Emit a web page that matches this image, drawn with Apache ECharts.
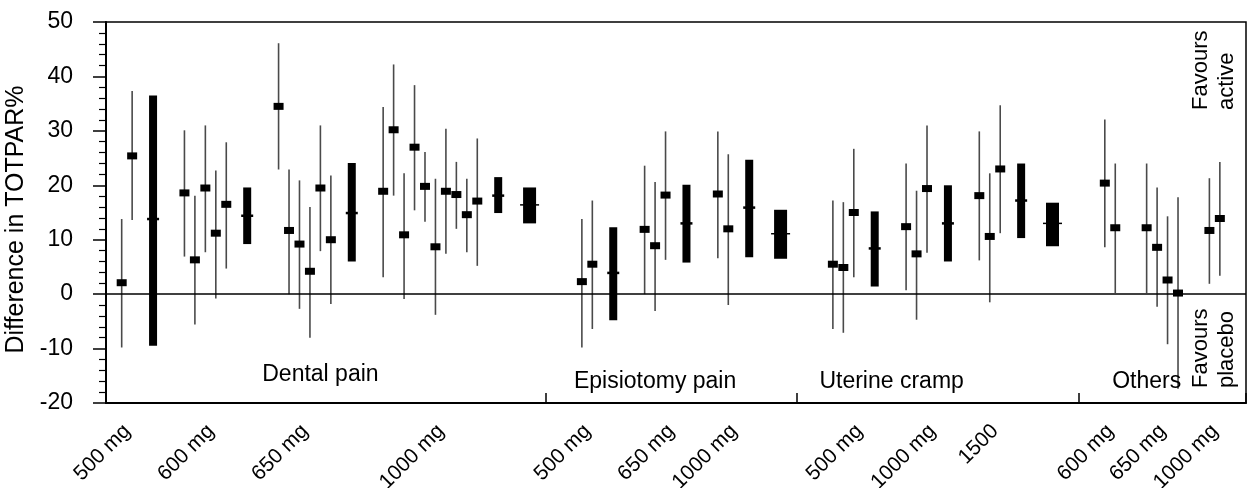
<!DOCTYPE html>
<html><head><meta charset="utf-8">
<script src="https://cdn.jsdelivr.net/npm/echarts@6/dist/echarts.min.js"></script>
<style>html,body{margin:0;padding:0;background:#fff}#c{width:1248px;height:488px}</style>
</head><body><div id="c"></div>
<script>
// ---------------- DATA ----------------
const slotCount = 109;
const doseLabels = ['500 mg','600 mg','650 mg','1000 mg','500 mg','650 mg','1000 mg','500 mg','1000 mg','1500','600 mg','650 mg','1000 mg'];
const doseLabelSlots = [2, 10, 19, 32, 46, 54, 60, 72, 79, 85, 96, 101, 106];
const groupNames = ['Dental pain', 'Episiotomy pain', 'Uterine cramp', 'Others'];
const groupSeparatorSlots = [42, 66, 93];

// individual studies: slot, mean difference, lower CI, upper CI
const studySlots = [1,2, 7,8,9,10,11, 16,17,18,19,20,21, 26,27,28,29,30,31,32,33,34,35,
  45,46, 51,52,53, 58,59, 69,70,71, 76,77,78, 83,84,85, 95,96, 99,100,101,102, 105,106];
const studyMean = [2.1,25.4, 18.6,6.3,19.5,11.2,16.5, 34.5,11.7,9.2,4.2,19.5,10.0,
  18.9,30.2,10.9,27.0,19.8,8.7,18.9,18.3,14.6,17.1,
  2.3,5.5, 11.9,8.9,18.2, 18.4,12.0, 5.5,4.9,15.0, 12.4,7.4,19.4, 18.1,10.6,23.0,
  20.4,12.2, 12.2,8.6,2.6,0.2, 11.7,13.9];
const studyLow = [-9.8,13.6, 6.9,-5.6,7.7,-0.8,4.7, 22.9,0.0,-2.7,-8.0,7.9,-1.8,
  3.1,18.1,-0.9,15.4,13.3,-3.8,7.4,12.0,7.7,5.2,
  -9.8,-6.4, 0.0,-3.1,6.3, 6.6,-2.0, -6.4,-7.1,3.1, 0.7,-4.7,7.6, 6.2,-1.5,11.2,
  8.6,0.2, 0.2,-2.3,-9.2,-17.4, 1.9,3.4];
const studyHigh = [13.8,37.3, 30.1,18.1,31.0,22.7,27.9, 46.1,22.9,20.9,16.0,31.0,21.8,
  34.4,42.2,22.2,38.4,26.1,21.2,30.4,24.3,21.2,28.6,
  13.8,17.2, 23.6,20.6,29.9, 29.9,25.7, 17.2,16.9,26.7, 24.0,19.0,31.0, 29.9,22.2,34.7,
  32.1,24.0, 24.0,19.6,14.3,17.8, 21.3,24.3];

// pooled estimate per dose
const pooledSlots = [4, 13, 23, 37, 48, 55, 61, 73, 80, 87];
const pooledMean = [13.8, 14.4, 14.9, 18.1, 3.9, 13.0, 15.9, 8.4, 13.0, 17.2];
const pooledLow  = [-9.5, 9.2, 6.0, 14.9, -4.8, 5.8, 6.8, 1.4, 6.0, 10.3];
const pooledHigh = [36.5, 19.6, 24.1, 21.5, 12.3, 20.1, 24.7, 15.2, 20.0, 24.0];

// overall estimate per pain model
const overallSlots = [40, 64, 90];
const overallMean = [16.4, 11.1, 13.0];
const overallLow  = [13.0, 6.5, 8.8];
const overallHigh = [19.6, 15.5, 16.8];

// ---------------- LAYOUT ----------------
const FONT = '"Liberation Sans", Arial, sans-serif';
const groupLabelAt = [[20, -14.8], [52, -16.1], [75, -16.1], [99, -16.1]];
const groupLabelShift = [[0, 0], [0, 0], [-4, 0], [0, 0]];

const categories = Array.from({length: slotCount}, (_, i) => 's' + i);
function rows(sl, m, lo, hi) { return sl.map((s, i) => [s, m[i], lo[i], hi[i]]); }

function pts(api) {
  const x = api.coord([api.value(0), api.value(1)]);
  const lo = api.coord([api.value(0), api.value(2)]);
  const hi = api.coord([api.value(0), api.value(3)]);
  return {x: x[0], ym: x[1], ylo: lo[1], yhi: hi[1]};
}

const chart = echarts.init(document.getElementById('c'), null, {renderer: 'canvas'});
chart.setOption({
  backgroundColor: '#fff',
  animation: false,
  grid: {left: 106, right: 2, top: 22, bottom: 85, containLabel: false, outerBoundsMode: 'none',
    show: true, borderColor: '#000', borderWidth: 1.5, backgroundColor: 'transparent'},
  xAxis: {
    type: 'category', data: categories, boundaryGap: true,
    axisLine: {show: true, onZero: false, lineStyle: {color: '#000', width: 2}},
    axisTick: {show: true, inside: true, length: 10, lineStyle: {color: '#000', width: 1.5},
      interval: (idx) => groupSeparatorSlots.includes(idx)},
    axisLabel: {interval: 0, rotate: 45, margin: 20, padding: [0, 7, 0, 0], color: '#000', fontSize: 21, fontFamily: FONT,
      formatter: (v, idx) => { const j = doseLabelSlots.indexOf(idx); return j >= 0 ? doseLabels[j] : ''; }},
    splitLine: {show: false}
  },
  yAxis: {
    type: 'value', min: -20, max: 50, interval: 10,
    name: 'Difference in TOTPAR%', nameLocation: 'middle', nameGap: 64,
    nameTextStyle: {color: '#000', fontSize: 25, fontFamily: FONT, padding: [0, 14, 0, 0]},
    axisLine: {show: true, lineStyle: {color: '#000', width: 2}},
    axisTick: {show: true, inside: false, length: 13, lineStyle: {color: '#000', width: 1.5}},
    minorTick: {show: true, splitNumber: 5, length: 7, lineStyle: {color: '#000', width: 1.2}},
    axisLabel: {color: '#000', fontSize: 23, fontFamily: FONT, margin: 33},
    splitLine: {show: false}
  },
  series: [
    {
      type: 'custom', name: 'studies', data: rows(studySlots, studyMean, studyLow, studyHigh),
      encode: {x: 0, y: [1, 2, 3]},
      renderItem: (params, api) => {
        const p = pts(api);
        return {type: 'group', children: [
          {type: 'line', shape: {x1: p.x, y1: p.yhi, x2: p.x, y2: p.ylo}, style: {stroke: '#4a4a4a', lineWidth: 1.6}},
          {type: 'rect', shape: {x: p.x - 5, y: p.ym - 3.5, width: 10, height: 7}, style: {fill: '#000'}}
        ]};
      },
      markLine: {silent: true, symbol: ['none', 'none'], label: {show: false},
        lineStyle: {color: '#000', width: 1.6, type: 'solid'}, data: [{yAxis: 0}]},
      markPoint: {
        symbol: 'circle', symbolSize: 1, itemStyle: {color: 'rgba(0,0,0,0)'},
        label: {show: true, position: 'inside', color: '#000', fontSize: 23, fontFamily: FONT, formatter: '{b}'},
        data: groupNames.map((n, i) => ({name: n, coord: groupLabelAt[i], label: {offset: groupLabelShift[i]}}))
      }
    },
    {
      type: 'custom', name: 'pooled', data: rows(pooledSlots, pooledMean, pooledLow, pooledHigh),
      encode: {x: 0, y: [1, 2, 3]},
      renderItem: (params, api) => {
        const p = pts(api);
        return {type: 'group', children: [
          {type: 'rect', shape: {x: p.x - 4, y: p.yhi, width: 8, height: p.ylo - p.yhi}, style: {fill: '#000'}},
          {type: 'line', shape: {x1: p.x - 6, y1: p.ym, x2: p.x + 6, y2: p.ym}, style: {stroke: '#000', lineWidth: 2.5}}
        ]};
      }
    },
    {
      type: 'custom', name: 'overall', data: rows(overallSlots, overallMean, overallLow, overallHigh),
      encode: {x: 0, y: [1, 2, 3]},
      renderItem: (params, api) => {
        const p = pts(api);
        return {type: 'group', children: [
          {type: 'rect', shape: {x: p.x - 6.5, y: p.yhi, width: 13, height: p.ylo - p.yhi}, style: {fill: '#000'}},
          {type: 'line', shape: {x1: p.x - 9.5, y1: p.ym, x2: p.x + 9.5, y2: p.ym}, style: {stroke: '#000', lineWidth: 1.5}}
        ]};
      }
    }
  ],
  graphic: [
    {type: 'text', x: 1214, y: 110, rotation: Math.PI / 2,
      style: {text: 'Favours\nactive', fill: '#000', fontSize: 22, fontFamily: FONT, align: 'left', verticalAlign: 'middle', lineHeight: 26}},
    {type: 'text', x: 1214, y: 388, rotation: Math.PI / 2,
      style: {text: 'Favours\nplacebo', fill: '#000', fontSize: 22, fontFamily: FONT, align: 'left', verticalAlign: 'middle', lineHeight: 26}}
  ]
});
</script></body></html>
